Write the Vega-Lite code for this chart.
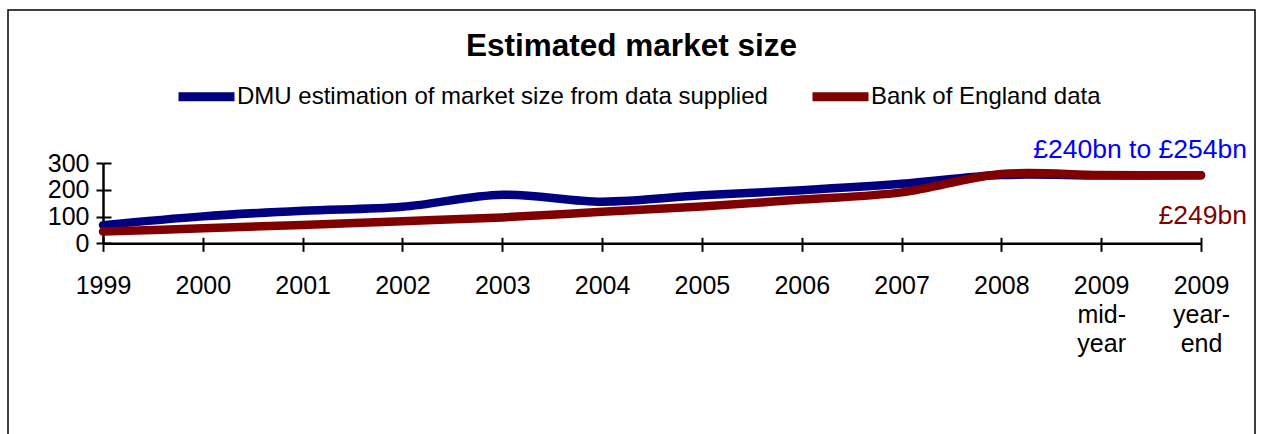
{
  "$schema": "https://vega.github.io/schema/vega-lite/v6.json",
  "autosize": "none",
  "padding": {"left": 8, "top": 10, "right": 6, "bottom": 0},
  "width": 1247,
  "height": 440,
  "background": "white",
  "config": {
    "view": {"stroke": "#000000", "strokeWidth": 1.5},
    "font": "Liberation Sans"
  },
  "title": {
    "text": "Estimated market size",
    "fontSize": 31.5,
    "fontWeight": "bold",
    "font": "Liberation Sans",
    "color": "#000000",
    "anchor": "middle",
    "offset": -52
  },
  "datasets": {
    "series": [
      {"series": "DMU estimation of market size from data supplied", "period": "1999", "value": 68},
      {"series": "DMU estimation of market size from data supplied", "period": "2000", "value": 101},
      {"series": "DMU estimation of market size from data supplied", "period": "2001", "value": 122},
      {"series": "DMU estimation of market size from data supplied", "period": "2002", "value": 137},
      {"series": "DMU estimation of market size from data supplied", "period": "2003", "value": 182},
      {"series": "DMU estimation of market size from data supplied", "period": "2004", "value": 156},
      {"series": "DMU estimation of market size from data supplied", "period": "2005", "value": 180},
      {"series": "DMU estimation of market size from data supplied", "period": "2006", "value": 199},
      {"series": "DMU estimation of market size from data supplied", "period": "2007", "value": 223},
      {"series": "DMU estimation of market size from data supplied", "period": "2008", "value": 256},
      {"series": "DMU estimation of market size from data supplied", "period": "2009 mid-year", "value": 254},
      {"series": "DMU estimation of market size from data supplied", "period": "2009 year-end", "value": 255},
      {"series": "Bank of England data", "period": "1999", "value": 44},
      {"series": "Bank of England data", "period": "2000", "value": 56},
      {"series": "Bank of England data", "period": "2001", "value": 69},
      {"series": "Bank of England data", "period": "2002", "value": 83},
      {"series": "Bank of England data", "period": "2003", "value": 97},
      {"series": "Bank of England data", "period": "2004", "value": 118},
      {"series": "Bank of England data", "period": "2005", "value": 138},
      {"series": "Bank of England data", "period": "2006", "value": 164},
      {"series": "Bank of England data", "period": "2007", "value": 191},
      {"series": "Bank of England data", "period": "2008", "value": 260},
      {"series": "Bank of England data", "period": "2009 mid-year", "value": 256},
      {"series": "Bank of England data", "period": "2009 year-end", "value": 255}
    ],
    "labels": [
      {"series": "DMU estimation of market size from data supplied", "period": "2009 year-end", "value": 350, "label": "£240bn to £254bn"},
      {"series": "Bank of England data", "period": "2009 year-end", "value": 102, "label": "£249bn"}
    ]
  },
  "resolve": {"axis": {"x": "independent", "y": "independent"}},
  "layer": [
    {
      "data": {"name": "series"},
      "mark": {"type": "line", "strokeWidth": 8.5, "strokeCap": "round", "strokeJoin": "round", "interpolate": "cardinal", "tension": 0},
      "encoding": {
        "x": {
          "field": "period", "type": "ordinal",
          "scale": {"type": "point", "domain": ["1999","2000","2001","2002","2003","2004","2005","2006","2007","2008","2009 mid-year","2009 year-end"], "range": [95, 1193], "padding": 0},
          "axis": {
            "orient": "bottom", "offset": -206.7, "title": null, "grid": false,
            "labelAngle": 0, "labelFontSize": 25, "labelFont": "Liberation Sans", "labelColor": "#000000",
            "labelPadding": 22, "labelLineHeight": 29,
            "labelExpr": "datum.label == '2009 mid-year' ? ['2009', 'mid-', 'year'] : datum.label == '2009 year-end' ? ['2009', 'year-', 'end'] : datum.label",
            "tickSize": 8, "tickWidth": 2, "tickColor": "#000000",
            "domainColor": "#000000", "domainWidth": 2.5
          }
        },
        "y": {
          "field": "value", "type": "quantitative",
          "scale": {"domain": [0, 300], "range": [233.3, 153.3], "nice": false, "zero": true},
          "axis": {
            "orient": "left", "offset": -95, "title": null, "grid": false,
            "values": [0, 100, 200, 300],
            "labelFontSize": 25, "labelFont": "Liberation Sans", "labelColor": "#000000", "labelPadding": 7,
            "tickSize": 7, "tickWidth": 2, "tickColor": "#000000",
            "domainColor": "#000000", "domainWidth": 2.5
          }
        },
        "color": {
          "field": "series", "type": "nominal",
          "scale": {"domain": ["DMU estimation of market size from data supplied", "Bank of England data"], "range": ["#000080", "#800000"]},
          "legend": {
            "title": null, "orient": "none", "direction": "horizontal",
            "legendX": 166, "legendY": 54,
            "symbolType": "stroke", "symbolSize": 3136, "symbolStrokeWidth": 9,
            "labelFontSize": 24, "labelFont": "Liberation Sans", "labelColor": "#000000",
            "labelOffset": -2, "columnPadding": 26, "labelLimit": 800
          }
        }
      }
    },
    {
      "data": {"name": "labels"},
      "transform": [{"filter": "datum.label == '£240bn to £254bn'"}],
      "mark": {"type": "text", "align": "right", "baseline": "middle", "dx": 46, "fontSize": 26.5, "font": "Liberation Sans", "color": "#0000FF"},
      "encoding": {
        "x": {
          "field": "period", "type": "ordinal",
          "axis": {
            "orient": "bottom", "offset": -206.7, "title": null, "grid": false,
            "labels": false, "domain": false,
            "tickSize": -6, "tickWidth": 2, "tickColor": "#000000"
          }
        },
        "y": {
          "field": "value", "type": "quantitative",
          "axis": {
            "orient": "left", "offset": -95, "title": null, "grid": false,
            "labels": false, "domain": false, "values": [0, 100, 200, 300],
            "tickSize": -8, "tickWidth": 2, "tickColor": "#000000"
          }
        },
        "text": {"field": "label"}
      }
    },
    {
      "data": {"name": "labels"},
      "transform": [{"filter": "datum.label == '£249bn'"}],
      "mark": {"type": "text", "align": "right", "baseline": "middle", "dx": 46, "fontSize": 26.5, "font": "Liberation Sans", "color": "#800000"},
      "encoding": {
        "x": {"field": "period", "type": "ordinal", "axis": null},
        "y": {"field": "value", "type": "quantitative", "axis": null},
        "text": {"field": "label"}
      }
    }
  ]
}
